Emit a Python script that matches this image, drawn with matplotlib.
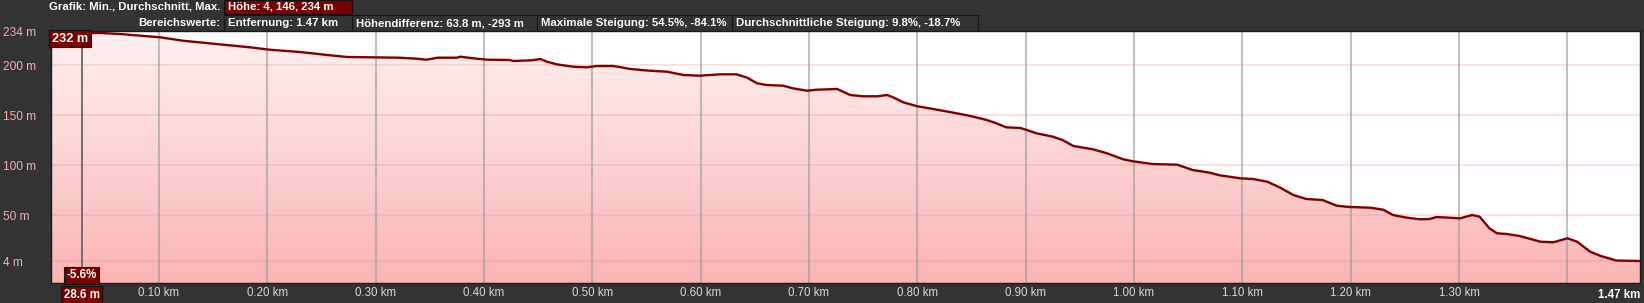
"""Elevation profile, dark header bar"""
import numpy as np
import matplotlib.pyplot as plt
from matplotlib.patches import Rectangle

# distance (km) and elevation (m)
dist_km = [0.000, 0.029, 0.046, 0.064, 0.101, 0.122, 0.153, 0.184, 0.202, 0.230,
           0.258, 0.274, 0.322, 0.338, 0.347, 0.357, 0.375, 0.378, 0.390, 0.403,
           0.424, 0.427, 0.444, 0.452, 0.458, 0.467, 0.482, 0.495, 0.504, 0.519,
           0.525, 0.535, 0.553, 0.569, 0.584, 0.599, 0.618, 0.633, 0.643, 0.652,
           0.661, 0.676, 0.685, 0.698, 0.707, 0.726, 0.738, 0.750, 0.763, 0.772,
           0.777, 0.787, 0.800, 0.811, 0.830, 0.849, 0.864, 0.873, 0.882, 0.895,
           0.901, 0.910, 0.925, 0.934, 0.944, 0.962, 0.975, 0.990, 0.999, 1.017,
           1.040, 1.054, 1.070, 1.079, 1.098, 1.110, 1.123, 1.135, 1.147, 1.159,
           1.174, 1.187, 1.199, 1.218, 1.230, 1.239, 1.252, 1.264, 1.273, 1.279,
           1.301, 1.312, 1.319, 1.328, 1.335, 1.344, 1.356, 1.375, 1.387, 1.400,
           1.409, 1.421, 1.430, 1.445, 1.467]
elev_m = [234, 232, 232, 231, 227.7, 224.3, 221, 217.7, 215.3, 213,
          209.7, 208, 207.3, 206.3, 205.3, 207.3, 207.3, 208.3, 206.7, 205.3,
          205, 204, 204.7, 206, 203.3, 200.7, 198.3, 197.7, 199, 199,
          198, 196, 194.3, 193.3, 190, 189.3, 190.7, 190.7, 187.3, 181.7,
          180, 179.3, 176.7, 174.3, 175.3, 176, 170, 168.7, 168.7, 170,
          168, 162.7, 158.7, 156.7, 153, 149, 145, 141.7, 137.7, 137,
          135, 131.7, 128.3, 125, 119, 115.7, 111.7, 105.7, 103.7, 101,
          100.3, 95, 92.3, 89.7, 86.7, 86, 83.3, 77.3, 70, 66,
          65, 59.3, 58, 57.3, 55.3, 50, 47.3, 45.7, 46, 48,
          46.7, 50, 48.3, 36.7, 31.7, 31, 29, 23.3, 22.7, 26.7,
          23.3, 13.3, 9.3, 4.5, 4]

y_ticks = [4, 50, 100, 150, 200, 234]
x_ticks = [0.1, 0.2, 0.3, 0.4, 0.5, 0.6, 0.7, 0.8, 0.9, 1.0, 1.1, 1.2, 1.3, 1.4]
x_labels = ["%.2f km" % v for v in x_ticks[:-1]] + [""]

cursor_km = 0.0286
cursor_elev = 232
cursor_slope = "-5.6%"

header_top = "Höhe: 4, 146, 234 m"
header_boxes = ["Entfernung: 1.47 km", "Höhendifferenz: 63.8 m, -293 m",
                "Maximale Steigung: 54.5%, -84.1%",
                "Durchschnittliche Steigung: 9.8%, -18.7%"]

plt.rcParams['font.family'] = ['Liberation Sans', 'DejaVu Sans']
BG = '#333333'
DARKRED = '#7a0000'
FS = 8.2

W, H = 1644, 303
fig = plt.figure(figsize=(W / 100, H / 100), dpi=100, facecolor=BG)

x0, x1, ytop, ybot = 50.6, 1640, 31, 283.3
ax = fig.add_axes([x0 / W, 1 - ybot / H, (x1 - x0) / W, (ybot - ytop) / H])
ax.set_facecolor('white')
ax.set_xlim(0, 1.467)
ax.set_ylim(-18.3, 234)

# gradient fill under the profile
poly = ax.fill_between(dist_km, elev_m, -18.3, color='none', lw=0)
grad = np.linspace(0, 1, 256).reshape(-1, 1)
top_c = np.array([254, 241, 241]) / 255
bot_c = np.array([251, 180, 180]) / 255
rgb = top_c[None, None, :] * (1 - grad[:, :, None]) + bot_c[None, None, :] * grad[:, :, None]
img = ax.imshow(rgb, extent=[0, 1.467, -18.3, 234], aspect='auto', origin='upper', zorder=1)
img.set_clip_path(poly.get_paths()[0], transform=ax.transData)

for yv in y_ticks:
    ax.axhline(yv, color='#f28c8c', alpha=0.28, lw=1.3, zorder=2)
for xv in x_ticks:
    ax.axvline(xv, color='#999999', alpha=0.6, lw=1.5, zorder=2)

ax.plot(dist_km, elev_m, color='#800000', lw=1.7, zorder=3)

# cursor
ax.axvline(cursor_km, color='#666666', lw=1.3, zorder=4)
ax.plot([cursor_km], [cursor_elev + 1], marker='o', ms=5, mfc='none', mec='#c03030', mew=1, zorder=5)

ax.set_yticks(y_ticks)
ax.set_yticklabels(["%d m" % v for v in y_ticks])
for lab in ax.get_yticklabels():
    lab.set_ha('left')
ax.tick_params(axis='y', length=0, pad=34.3, labelsize=8.6, labelcolor='#f2b0b0')
ax.set_xticks(x_ticks)
ax.set_xticklabels(x_labels)
ax.tick_params(axis='x', length=0, pad=3, labelsize=8.3, labelcolor='#d8d8d8')
for s in ax.spines.values():
    s.set_color('#1a1a1a')
    s.set_linewidth(1)

ax.text(1.467, -23.5, "1.47 km", ha='right', va='top', color='white',
        fontsize=8.3, fontweight='bold', clip_on=False)

box_kw = dict(boxstyle='square,pad=0.22', fc=DARKRED, ec='#111111', lw=0.8)
ax.text(0.0015, 226.5, "%d m" % cursor_elev, ha='left', va='center', color='white',
        fontsize=9.2, fontweight='bold', bbox=box_kw, zorder=6)
ax.text(cursor_km, -10.5, cursor_slope, ha='center', va='center', color='white',
        fontsize=8.3, fontweight='bold', bbox=box_kw, zorder=6)
ax.text(cursor_km, -23.5, "%.1f m" % (cursor_km * 1000), ha='center', va='top', color='white',
        fontsize=8.3, fontweight='bold', bbox=box_kw, zorder=6, clip_on=False)

# header bar in pixel coordinates
hd = fig.add_axes([0, 0, 1, 1], zorder=-1)
hd.set_xlim(0, W)
hd.set_ylim(H, 0)
hd.axis('off')
hd.add_patch(Rectangle((224, 0), 128, 14, fc=DARKRED, ec='#111111', lw=0.8))
hd.text(220, 6.5, "Grafik: Min., Durchschnitt, Max.", ha='right', va='center',
        color='white', fontsize=FS, fontweight='bold')
hd.text(228, 6.5, header_top, ha='left', va='center', color='white', fontsize=FS, fontweight='bold')
hd.text(220, 23.5, "Bereichswerte:", ha='right', va='center', color='white',
        fontsize=FS, fontweight='bold')
edges = [224, 352, 537, 732, 978]
for i, txt in enumerate(header_boxes):
    hd.add_patch(Rectangle((edges[i], 15), edges[i + 1] - edges[i], 17,
                           fc=BG, ec='#151515', lw=0.8))
    hd.text(edges[i] + 4, 23.5, txt, ha='left', va='center', color='white',
            fontsize=FS, fontweight='bold')

fig.savefig("out.png", dpi=100, facecolor=BG)
